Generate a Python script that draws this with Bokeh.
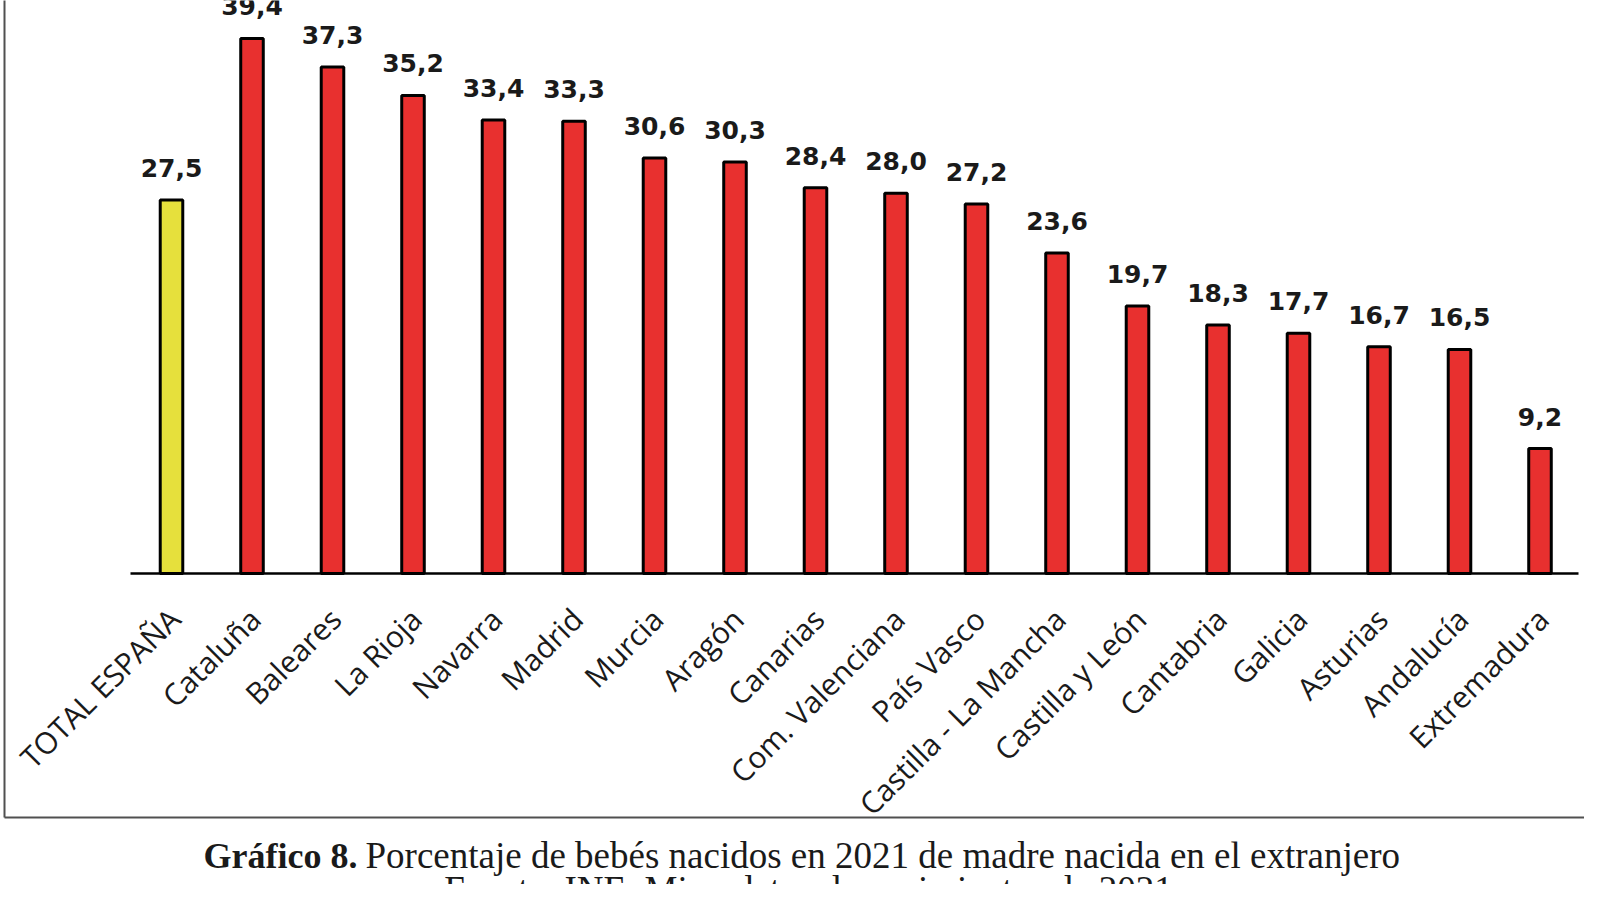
import math
from bokeh.plotting import figure
from bokeh.models import Range1d, ColumnDataSource
from bokeh.core.properties import value
from bokeh.embed import file_html
from bokeh.resources import INLINE

# ---------------- data ----------------
categories = ["TOTAL ESPAÑA", "Cataluña", "Baleares", "La Rioja", "Navarra", "Madrid",
              "Murcia", "Aragón", "Canarias", "Com. Valenciana", "País Vasco",
              "Castilla - La Mancha", "Castilla y León", "Cantabria", "Galicia",
              "Asturias", "Andalucía", "Extremadura"]
values = [27.5, 39.4, 37.3, 35.2, 33.4, 33.3, 30.6, 30.3, 28.4, 28.0, 27.2,
          23.6, 19.7, 18.3, 17.7, 16.7, 16.5, 9.2]
value_labels = [f"{v:.1f}".replace(".", ",") for v in values]
caption_bold = "Gráfico 8."
caption_text = "Porcentaje de bebés nacidos en 2021 de madre nacida en el extranjero"
source_text = "Fuente: INE. Microdatos de nacimientos de 2021"

# ---------------- layout (pixel geometry of the reference) ----------------
W, H = 1584, 884
PXU = 13.58      # px per percentage unit
PXX = 80.5       # px per category
BASE_Y = 573     # baseline, px from top
X0 = 171         # centre of first bar, px from left

y_start = -(H - BASE_Y) / PXU
y_end = y_start + H / PXU
x_start = -X0 / PXX
x_end = x_start + W / PXX

def xr(px):
    return x_start + px / PXX

def yr(py):
    return y_start + (H - py) / PXU

idx = list(range(len(categories)))
colors = ["#E6E03C"] + ["#E8302F"] * (len(categories) - 1)

src = ColumnDataSource(dict(
    x=idx, top=values, color=colors, lab=value_labels, cat=categories,
    ly=[v + 32 / PXU for v in values],
    cx=[i + 3 / PXX for i in idx],
    cy=[-40 / PXU] * len(idx),
))

p = figure(width=W, height=H, x_range=Range1d(x_start, x_end), y_range=Range1d(y_start, y_end),
           output_backend="svg", toolbar_location=None, min_border=0,
           x_axis_location=None, y_axis_location=None)
p.grid.visible = False
p.outline_line_color = None
p.background_fill_color = "white"
p.border_fill_color = "white"

# frame border (left and bottom visible in the crop)
p.segment(x0=[xr(4)], y0=[y_end + 1], x1=[xr(4)], y1=[yr(817)], line_color="#505050", line_width=2)
p.segment(x0=[xr(4)], y0=[yr(817)], x1=[x_end + 1], y1=[yr(817)], line_color="#505050", line_width=2)

# bars
p.vbar(x="x", top="top", bottom=0, width=0.28, fill_color="color", line_color="black",
       line_width=3, source=src)

# category axis line
p.segment(x0=[xr(130)], y0=[0], x1=[xr(1578)], y1=[0], line_color="black", line_width=2.5)

# value labels
p.text(x="x", y="ly", text="lab", source=src, text_font=value("DejaVu Sans"),
       text_font_style="bold", text_font_size="25px", text_align="center",
       text_baseline="alphabetic", text_color="#1a1a1a")

# category labels
p.text(x="cx", y="cy", text="cat", source=src, angle=math.pi / 4,
       text_font=value("Open Sans"), text_font_size="30px", text_align="right",
       text_baseline="middle", text_color="#1a1a1a")

# caption
p.text(x=[xr(357)], y=[yr(855)], text=[caption_bold], text_font=value("Liberation Serif"),
       text_font_style="bold", text_font_size="36px", text_align="right",
       text_baseline="middle", text_color="#1a1a1a")
p.text(x=[xr(365)], y=[yr(855)], text=[caption_text], text_font=value("Liberation Serif"),
       text_font_size="37px", text_align="left", text_baseline="middle", text_color="#1a1a1a")
p.text(x=[xr(808)], y=[yr(868)], text=[source_text], text_font=value("Liberation Serif"),
       text_font_size="37px", text_align="center", text_baseline="top", text_color="#1a1a1a")

open("out.html", "w").write(file_html(p, INLINE))
